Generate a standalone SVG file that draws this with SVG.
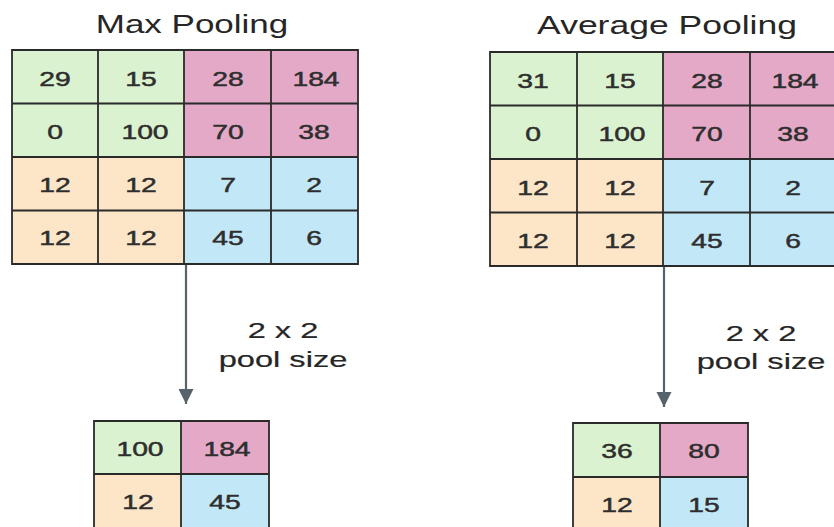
<svg xmlns="http://www.w3.org/2000/svg" width="834" height="527" viewBox="0 0 834 527">
<style>
.t{font-family:"Liberation Sans",Arial,sans-serif;fill:#2e2e2e;text-anchor:middle}
.title{font-size:25px;fill:#262626}
.num{font-size:19.5px;stroke:#2e2e2e;stroke-width:0.45px}
.lbl{font-size:22.5px;fill:#262626;stroke:#262626;stroke-width:0.2px}
.g{fill:#daf2cf}.p{fill:#e3a9c7}.o{fill:#fde5c8}.b{fill:#c2e8f8}
.grid{fill:none;stroke:#2a2a2a;stroke-width:1.8}
.conn{stroke:#56636b;stroke-width:2.2;fill:none}
</style>
<defs>
<marker id="ah" markerWidth="8" markerHeight="8" refX="7" refY="4" orient="auto" markerUnits="strokeWidth">
<path d="M0,0.5 L7,4 L0,7.5 Z" fill="#56636b"/>
</marker>
</defs>
<rect width="834" height="527" fill="#ffffff"/>

<g id="max-title"><text class="t title" transform="translate(192,33) scale(1.4,1)">Max Pooling</text></g>
<g id="avg-title"><text class="t title" transform="translate(667,34) scale(1.42,1)">Average Pooling</text></g>

<g id="max-input">
<rect class="g" x="12" y="50" width="172" height="107"/>
<rect class="p" x="184" y="50" width="174" height="107"/>
<rect class="o" x="12" y="157" width="172" height="107"/>
<rect class="b" x="184" y="157" width="174" height="107"/>
<path class="grid" d="M12,50H358V264H12Z M98,50V264 M184,50V264 M271,50V264 M12,103.5H358 M12,157H358 M12,210.5H358"/>
<g class="t num">
<text transform="translate(55,86) scale(1.45,1)">29</text><text transform="translate(141,86) scale(1.45,1)">15</text><text transform="translate(228,86) scale(1.45,1)">28</text><text transform="translate(316,86) scale(1.45,1)">184</text>
<text transform="translate(55,139) scale(1.45,1)">0</text><text transform="translate(145,139) scale(1.45,1)">100</text><text transform="translate(228,139) scale(1.45,1)">70</text><text transform="translate(314,139) scale(1.45,1)">38</text>
<text transform="translate(55,192) scale(1.45,1)">12</text><text transform="translate(141,192) scale(1.45,1)">12</text><text transform="translate(228,192) scale(1.45,1)">7</text><text transform="translate(314,192) scale(1.45,1)">2</text>
<text transform="translate(55,245) scale(1.45,1)">12</text><text transform="translate(141,245) scale(1.45,1)">12</text><text transform="translate(228,245) scale(1.45,1)">45</text><text transform="translate(314,245) scale(1.45,1)">6</text>
</g>
</g>

<g id="avg-input">
<rect class="g" x="490" y="52" width="173" height="107"/>
<rect class="p" x="663" y="52" width="175" height="107"/>
<rect class="o" x="490" y="159" width="173" height="107"/>
<rect class="b" x="663" y="159" width="175" height="107"/>
<path class="grid" d="M490,52H838V266H490Z M577,52V266 M663,52V266 M750,52V266 M490,105.5H838 M490,159H838 M490,212.5H838"/>
<g class="t num">
<text transform="translate(533,88) scale(1.45,1)">31</text><text transform="translate(620,88) scale(1.45,1)">15</text><text transform="translate(707,88) scale(1.45,1)">28</text><text transform="translate(795,88) scale(1.45,1)">184</text>
<text transform="translate(533,141) scale(1.45,1)">0</text><text transform="translate(622,141) scale(1.45,1)">100</text><text transform="translate(707,141) scale(1.45,1)">70</text><text transform="translate(793,141) scale(1.45,1)">38</text>
<text transform="translate(533,195) scale(1.45,1)">12</text><text transform="translate(620,195) scale(1.45,1)">12</text><text transform="translate(707,195) scale(1.45,1)">7</text><text transform="translate(793,195) scale(1.45,1)">2</text>
<text transform="translate(533,248) scale(1.45,1)">12</text><text transform="translate(620,248) scale(1.45,1)">12</text><text transform="translate(707,248) scale(1.45,1)">45</text><text transform="translate(793,248) scale(1.45,1)">6</text>
</g>
</g>

<g id="connectors">
<line class="conn" x1="186" y1="265" x2="186" y2="404" marker-end="url(#ah)"/>
<line class="conn" x1="664" y1="267" x2="664" y2="407" marker-end="url(#ah)"/>
</g>

<g id="max-label">
<text class="t lbl" transform="translate(283,338) scale(1.45,1)">2 x 2</text>
<text class="t lbl" transform="translate(283,367) scale(1.45,1)">pool size</text>
</g>
<g id="avg-label">
<text class="t lbl" transform="translate(761,341) scale(1.45,1)">2 x 2</text>
<text class="t lbl" transform="translate(761,369) scale(1.45,1)">pool size</text>
</g>

<g id="max-output">
<rect class="g" x="94" y="421" width="87" height="53"/>
<rect class="p" x="181" y="421" width="88" height="53"/>
<rect class="o" x="94" y="474" width="87" height="55"/>
<rect class="b" x="181" y="474" width="88" height="55"/>
<path class="grid" d="M94,529V421H269V529 M181,421V529 M94,474H269"/>
<g class="t num">
<text transform="translate(140,456) scale(1.45,1)">100</text><text transform="translate(227,456) scale(1.45,1)">184</text>
<text transform="translate(138,509) scale(1.45,1)">12</text><text transform="translate(225,509) scale(1.45,1)">45</text>
</g>
</g>

<g id="avg-output">
<rect class="g" x="573" y="423" width="87" height="54"/>
<rect class="p" x="660" y="423" width="88" height="54"/>
<rect class="o" x="573" y="477" width="87" height="52"/>
<rect class="b" x="660" y="477" width="88" height="52"/>
<path class="grid" d="M573,529V423H748V529 M660,423V529 M573,477H748"/>
<g class="t num">
<text transform="translate(617,458) scale(1.45,1)">36</text><text transform="translate(704,458) scale(1.45,1)">80</text>
<text transform="translate(617,512) scale(1.45,1)">12</text><text transform="translate(704,512) scale(1.45,1)">15</text>
</g>
</g>
</svg>
